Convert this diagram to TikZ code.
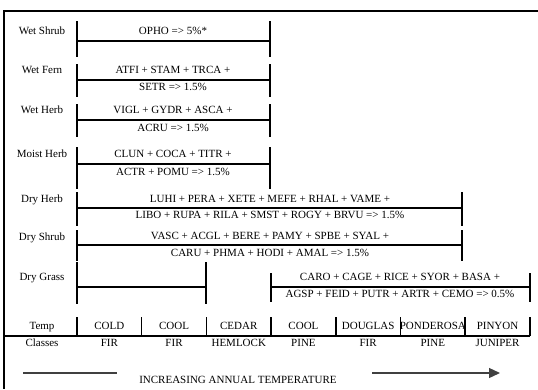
\documentclass[tikz,border=0pt]{standalone}
\usepackage{fontspec}
\setmainfont{Liberation Serif}
\usetikzlibrary{arrows.meta,positioning}
\tikzset{lab/.style={font=\fontsize{11}{12}\selectfont,inner sep=0pt,text height=7pt,text depth=2pt},
  bar/.style={line width=2pt},
  rule/.style={line width=1.5pt},
  guide/.style={line width=1.3pt,draw=black!75}
}

\begin{document}
\begin{tikzpicture}[x=1pt,y=-1pt]
  \useasboundingbox (0,0) rectangle (538,389);

  % Frame
  \coordinate (tl) at (4,11);
  \coordinate (tr) at (538,11);
  \coordinate (bl) at (4,389);
  \draw[rule] (tr) -- (tl) -- (bl);

  % Vegetation groups
  \node[lab] (ws) at (42,32) {Wet Shrub};
  \node[lab] (wf) at (42,71) {Wet Fern};
  \node[lab] (wh) at (42,111) {Wet Herb};
  \node[lab] (mh) at (42,155) {Moist Herb};
  \node[lab] (dh) at (42,200) {Dry Herb};
  \node[lab] (ds) at (42,238) {Dry Shrub};
  \node[lab] (dg) at (42,278) {Dry Grass};

  % Wet Shrub range
  \draw[bar] (77,21) -- (77,57) (270,21) -- (270,57);
  \draw[rule] (77,41) -- (270,41);
  \node[lab] (ws1) at (173,32) {OPHO => 5\%*};

  % Wet Fern range
  \draw[bar] (77,64) -- (77,97) (270,64) -- (270,97);
  \draw[rule] (77,80) -- (270,80);
  \node[lab] (wf1) at (173,71) {ATFI + STAM + TRCA +};
  \node[lab] (wf2) at (173,88) {SETR => 1.5\%};

  % Wet Herb range
  \draw[bar] (77,104) -- (77,137) (270,104) -- (270,137);
  \draw[rule] (77,120) -- (270,120);
  \node[lab] (wh1) at (173,111) {VIGL + GYDR + ASCA +};
  \node[lab] (wh2) at (173,129) {ACRU => 1.5\%};

  % Moist Herb range
  \draw[bar] (77,147) -- (77,189) (270,147) -- (270,189);
  \draw[rule] (77,164) -- (270,164);
  \node[lab] (mh1) at (173,155) {CLUN + COCA + TITR +};
  \node[lab] (mh2) at (173,173) {ACTR + POMU => 1.5\%};

  % Dry Herb range
  \draw[bar] (77,192) -- (77,226) (462,192) -- (462,226);
  \draw[rule] (77,208) -- (462,208);
  \node[lab] (dh1) at (270,200) {LUHI + PERA + XETE + MEFE + RHAL + VAME +};
  \node[lab] (dh2) at (270,216) {LIBO + RUPA + RILA + SMST + ROGY + BRVU => 1.5\%};

  % Dry Shrub range
  \draw[bar] (77,230) -- (77,261) (462,230) -- (462,261);
  \draw[rule] (77,245) -- (462,245);
  \node[lab] (ds1) at (270,237) {VASC + ACGL + BERE + PAMY + SPBE + SYAL +};
  \node[lab] (ds2) at (270,254) {CARU + PHMA + HODI + AMAL => 1.5\%};

  % Dry Grass ranges
  \draw[bar] (77,262) -- (77,304) (206,262) -- (206,304);
  \draw[rule] (77,287) -- (206,287);
  \draw[bar] (271,273) -- (271,302) (530,273) -- (530,302);
  \draw[rule] (271,287) -- (530,287);
  \node[lab] (dg1) at (400,278) {CARO + CAGE + RICE + SYOR + BASA +};
  \node[lab] (dg2) at (400,295) {AGSP + FEID + PUTR + ARTR + CEMO => 0.5\%};

  % Temp classes
  \node[lab] (tp) at (42,327) {Temp};
  \node[lab] (cl) at (42,344) {Classes};
  \draw[rule] (4,336) -- (530,336);
  \foreach \i in {0,...,7}
    \draw[rule] ({77+64.7*\i},317) -- ({77+64.7*\i},336);
  \foreach \t/\b [count=\i from 0] in {COLD/FIR,COOL/FIR,CEDAR/HEMLOCK,COOL/PINE,DOUGLAS/FIR,PONDEROSA/PINE,PINYON/JUNIPER}{
    \node[lab] (t\i) at ({109.35+64.7*\i},327) {\t};
    \node[lab] (c\i) at ({109.35+64.7*\i},344) {\b};
  }

  % Temperature gradient
  \node[lab] (inc) at (238,381) {INCREASING ANNUAL TEMPERATURE};
  \coordinate (g1) at (23,373);
  \coordinate (g2) at (117,373);
  \coordinate (g3) at (372,373);
  \coordinate (g4) at (500,373);
  \draw[guide] (g1) -- (g2);
  \draw[guide,-{Triangle[length=11pt,width=10pt]}] (g3) -- (g4);

\end{tikzpicture}
\end{document}
